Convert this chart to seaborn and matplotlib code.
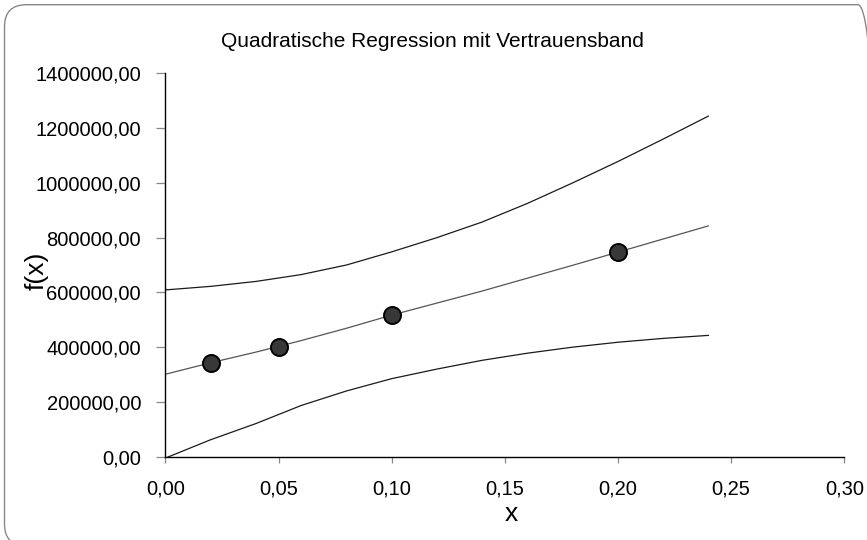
import matplotlib
matplotlib.use("Agg")
import matplotlib.pyplot as plt
import matplotlib.ticker as mticker
from matplotlib.patches import FancyBboxPatch
from matplotlib.transforms import IdentityTransform
import seaborn as sns
import pandas as pd

# Data
x_points = [0.02, 0.05, 0.10, 0.20]
y_points = [343000, 401600, 517300, 747400]

x_curve = [0.00, 0.02, 0.04, 0.06, 0.08, 0.10, 0.12, 0.14, 0.16, 0.18, 0.20, 0.22, 0.24]
fit_mid = [301000, 343000, 382000, 424000, 469000, 517000, 561000, 605000, 652000, 699000, 747000, 795000, 843000]
band_upper = [609000, 622000, 640000, 665000, 700000, 748000, 800000, 857000, 925000, 1000000, 1078000, 1160000, 1244000]
band_lower = [-5000, 62000, 121000, 187000, 240000, 285000, 320000, 352000, 378000, 400000, 418000, 432000, 443000]

x_ticks = [0.00, 0.05, 0.10, 0.15, 0.20, 0.25, 0.30]
y_ticks = [0, 200000, 400000, 600000, 800000, 1000000, 1200000, 1400000]

title = "Quadratische Regression mit Vertrauensband"
x_label = "x"
y_label = "f(x)"

sns.set_theme(style="white")
plt.rcParams["font.family"] = ["Liberation Sans", "DejaVu Sans"]

W, H = 867, 540
fig = plt.figure(figsize=(W / 100, H / 100), dpi=100)
fig.patch.set_facecolor("white")

left, right = 165.4 / W, 844.3 / W
bottom, top = 1 - 456.7 / H, 1 - 73.3 / H
ax = fig.add_axes([left, bottom, right - left, top - bottom])
ax.set_facecolor("white")

curves = pd.DataFrame({"x": x_curve, "mid": fit_mid, "upper": band_upper, "lower": band_lower})
pts = pd.DataFrame({"x": x_points, "y": y_points})

sns.lineplot(data=curves, x="x", y="upper", ax=ax, color="#1a1a1a", lw=0.9, estimator=None, sort=False)
sns.lineplot(data=curves, x="x", y="lower", ax=ax, color="#1a1a1a", lw=0.9, estimator=None, sort=False)
sns.lineplot(data=curves, x="x", y="mid", ax=ax, color="#555555", lw=0.9, estimator=None, sort=False)
sns.scatterplot(data=pts, x="x", y="y", ax=ax, s=150, color="#383838", edgecolor="black", linewidth=1.4, zorder=5)

ax.set_xlim(0, 0.30)
ax.set_ylim(0, 1400000)
ax.set_xticks(x_ticks)
ax.set_yticks(y_ticks)
ax.xaxis.set_major_formatter(mticker.FuncFormatter(lambda v, p: f"{v:.2f}".replace(".", ",")))
ax.yaxis.set_major_formatter(mticker.FuncFormatter(lambda v, p: f"{v:.2f}".replace(".", ",")))
ax.set_xlabel("")
ax.set_ylabel("")

for s in ["top", "right"]:
    ax.spines[s].set_visible(False)
for s in ["left", "bottom"]:
    ax.spines[s].set_color("black")
    ax.spines[s].set_linewidth(1.0)

ax.tick_params(axis="y", direction="out", length=6.5, width=0.9, color="#888888",
               pad=11, labelsize=14.5, labelcolor="black", left=True)
ax.tick_params(axis="x", direction="out", length=4.5, width=0.9, color="#888888",
               pad=12, labelsize=14.5, labelcolor="black", bottom=True)

fig.text(432.5 / W, 1 - 41.7 / H, title, ha="center", va="center", fontsize=15, color="black")
fig.text(511 / W, 1 - 514 / H, x_label, ha="center", va="center", fontsize=19, color="black")
fig.text(37 / W, 1 - 271 / H, y_label, ha="center", va="center", rotation=90, fontsize=19, color="black")

# rounded chart-area border (pixel coordinates, origin bottom-left)
border = FancyBboxPatch((4.5, -6), 880 - 4.5, 535.3 + 6,
                        boxstyle="round,pad=0,rounding_size=22",
                        transform=IdentityTransform(), fill=False, edgecolor="#888888", lw=1.0)
fig.patches.append(border)

fig.savefig("out.png", dpi=100, facecolor="white")
